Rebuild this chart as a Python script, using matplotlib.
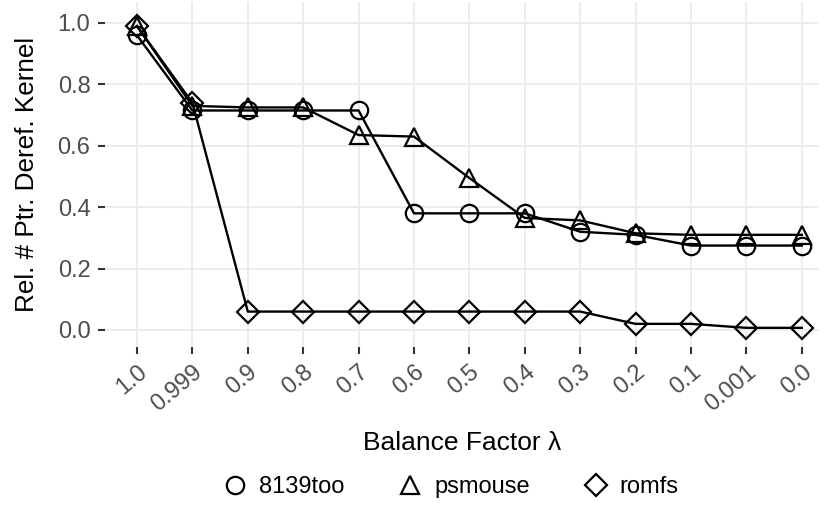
import matplotlib
matplotlib.use("Agg")
import matplotlib.pyplot as plt
import matplotlib.transforms as mtransforms
from matplotlib.lines import Line2D

plt.rcParams["font.family"] = ["Liberation Sans", "DejaVu Sans"]

lambdas = ["1.0", "0.999", "0.9", "0.8", "0.7", "0.6", "0.5", "0.4",
           "0.3", "0.2", "0.1", "0.001", "0.0"]

# relative number of pointer dereferences per kernel module
r8139too = [0.96, 0.715, 0.715, 0.715, 0.715, 0.38, 0.38, 0.38,
            0.32, 0.31, 0.275, 0.275, 0.275]
psmouse = [0.99, 0.73, 0.725, 0.725, 0.635, 0.63, 0.495, 0.365,
           0.357, 0.315, 0.31, 0.31, 0.31]
romfs = [0.99, 0.74, 0.06, 0.06, 0.06, 0.06, 0.06, 0.06,
         0.06, 0.02, 0.02, 0.007, 0.007]

series = [("8139too", r8139too, "o"), ("psmouse", psmouse, "^"),
          ("romfs", romfs, "D")]

W, H = 824, 515
fig = plt.figure(figsize=(W / 100, H / 100), dpi=100)
# panel box in pixels: left 105, right 819, top 2, bottom 347
ax = fig.add_axes([105 / W, 1 - 347 / H, (819 - 105) / W, (347 - 2) / H])

x = list(range(len(lambdas)))
for name, vals, mk in series:
    ms = 11 if mk == "D" else 12.5
    ax.plot(x, vals, color="black", lw=1.7, marker=mk, ms=ms,
            mfc="none", mec="black", mew=1.6, zorder=3)

ax.set_xlim(-0.577, len(lambdas) - 1 + 0.31)
ax.set_ylim(-0.0554, 1.0684)
ax.set_xticks(x)
ax.set_xticklabels(lambdas, rotation=40, ha="right", va="top",
                   rotation_mode="anchor", fontsize=17, color="#4d4d4d")
shift = mtransforms.ScaledTranslation(3 / 100, 0, fig.dpi_scale_trans)
for lab in ax.get_xticklabels():
    lab.set_transform(lab.get_transform() + shift)
ax.set_yticks([0.0, 0.2, 0.4, 0.6, 0.8, 1.0])
ax.set_yticklabels(["0.0", "0.2", "0.4", "0.6", "0.8", "1.0"],
                   fontsize=17, color="#4d4d4d")
ax.tick_params(axis="both", length=5, width=1.5, color="#333333")
ax.tick_params(axis="y", pad=5.5)
ax.tick_params(axis="x", pad=5)
ax.grid(True, color="#ebebeb", lw=1.3, zorder=0)
for s in ax.spines.values():
    s.set_visible(False)

ax.set_xlabel("Balance Factor λ", fontsize=19, labelpad=11)
ax.set_ylabel("Rel. # Ptr. Deref. Kernel", fontsize=18.8, labelpad=13)

handles = [Line2D([], [], ls="none", marker=mk, ms=(11 if mk == "D" else 12.5),
                  mfc="none", mec="black", mew=1.6)
           for _, _, mk in series]
fig.legend(handles, [s[0] for s in series], loc="center",
           bbox_to_anchor=(445 / W, 1 - 487 / H), ncol=3, frameon=False,
           fontsize=17, handletextpad=0.0, columnspacing=1.8)

fig.savefig("out.png", dpi=100)
